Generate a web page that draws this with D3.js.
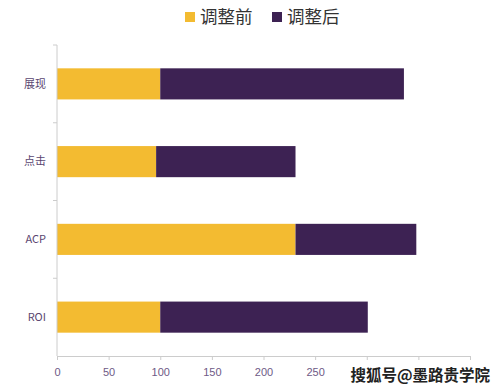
<!DOCTYPE html>
<html>
<head>
<meta charset="utf-8">
<script src="https://cdn.jsdelivr.net/npm/d3@7"></script>
<style>
  body { margin: 0; background: #fff; }
  svg { display: block; font-family: "Noto Sans CJK SC", "Open Sans", sans-serif; }
</style>
</head>
<body>
<svg id="chart" width="503" height="391"></svg>
<script>
const categories = ["展现", "点击", "ACP", "ROI"];
const seriesNames = ["调整前", "调整后"];
const before = [100, 96, 231, 100];
const after = [236, 135, 117, 201];
const xTicks = [0, 50, 100, 150, 200, 250, 300, 350, 400];
// labels past 250 sit under the watermark in the original
const xLabelMax = 250;

const colors = ["#F3BB31", "#3D2253"];
const margin = { top: 45, right: 33, bottom: 35, left: 57 };
const width = 503, height = 391;

const svg = d3.select("#chart");

const rows = categories.map((c, i) => ({ cat: c, before: before[i], after: after[i] }));
const stack = d3.stack().keys(["before", "after"])(rows);

const x = d3.scaleLinear().domain([0, 400]).range([margin.left, width - margin.right]);
const y = d3.scaleBand().domain(categories).range([margin.top, height - margin.bottom]).paddingInner(0.6).paddingOuter(0.3);

// bars
stack.forEach((layer, k) => {
  svg.append("g").selectAll("rect")
    .data(layer)
    .enter().append("rect")
    .attr("x", d => x(d[0]))
    .attr("y", d => y(d.data.cat))
    .attr("width", d => x(d[1]) - x(d[0]))
    .attr("height", y.bandwidth())
    .style("fill", colors[k]);
});

// x axis
const xAxis = svg.append("g")
  .attr("transform", "translate(0," + (height - margin.bottom) + ")")
  .call(d3.axisBottom(x).tickValues(xTicks).tickSize(4).tickPadding(8)
    .tickFormat(d => d <= xLabelMax ? d : ""));
xAxis.select(".domain").style("stroke", "#ccc");
xAxis.selectAll(".tick line").style("stroke", "#ccc");
xAxis.selectAll("text").style("fill", "#6e5a86").style("font-size", "11px");

// y axis with ticks at band boundaries
const step = y.step();
const yAxisG = svg.append("g");
yAxisG.append("line")
  .attr("x1", x(0)).attr("x2", x(0))
  .attr("y1", margin.top).attr("y2", height - margin.bottom)
  .style("stroke", "#ccc");
d3.range(categories.length).forEach(i => {
  const yy = margin.top + i * step;
  yAxisG.append("line")
    .attr("x1", x(0) - 4).attr("x2", x(0))
    .attr("y1", yy).attr("y2", yy)
    .style("stroke", "#ccc");
});
yAxisG.selectAll("text.cat")
  .data(categories)
  .enter().append("text")
  .attr("x", x(0) - 11)
  .attr("y", d => y(d) + y.bandwidth() / 2)
  .attr("dy", "0.35em")
  .attr("text-anchor", "end")
  .style("fill", "#5a4670")
  .style("font-size", "11px")
  .text(d => d);

// legend
const legend = svg.append("g");
const legendX = [185, 272];
seriesNames.forEach((name, k) => {
  legend.append("rect")
    .attr("x", legendX[k]).attr("y", 12)
    .attr("width", 10).attr("height", 10)
    .style("fill", colors[k]);
  legend.append("text")
    .attr("x", legendX[k] + 15).attr("y", 17)
    .attr("dy", "0.35em")
    .style("font-size", "17.5px")
    .style("fill", "#333")
    .text(name);
});

// watermark
svg.append("text")
  .attr("x", 490).attr("y", 376)
  .attr("dy", "0.35em")
  .attr("text-anchor", "end")
  .style("font-size", "15.5px")
  .style("font-weight", "bold")
  .style("fill", "#222")
  .style("stroke", "#fff")
  .style("stroke-width", "2px")
  .style("paint-order", "stroke")
  .text("搜狐号@墨路贵学院");
</script>
</body>
</html>
